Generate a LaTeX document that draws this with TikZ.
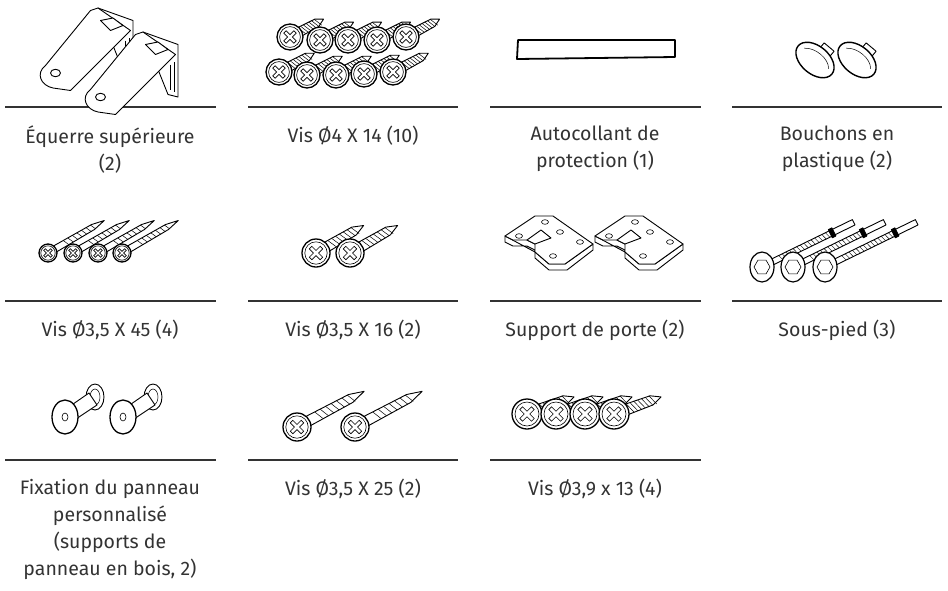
\documentclass[tikz,border=0pt]{standalone}
\usepackage{fontspec}
\setmainfont{Fira Sans}
\definecolor{ink}{HTML}{333333}
\tikzset{
  sep/.style={draw=ink,line width=1.4pt},
  lbl/.style={text=ink,font=\fontsize{19.5}{27}\selectfont,align=center,anchor=north,inner sep=0pt},
  part/.style={draw=black,line width=0.9pt,fill=white,line join=round}
}
\newcommand\myscrew[5]{% x y r angle len
  \begin{scope}[shift={(#1,#2)},rotate=#4]
    \draw[part] (0,-0.38*#3) -- (0.8*#5,-0.32*#3) -- (#5,0) -- (0.8*#5,0.32*#3) -- (0,0.38*#3) -- cycle;
    \foreach \t in {0.3,0.38,...,0.8}
      \draw[line width=0.5pt] ({\t*#5},{-0.34*#3}) -- ({\t*#5+0.3*#3},{0.34*#3});
  \end{scope}
  \draw[part,line width=1.3pt] (#1,#2) circle[radius=#3];
  \draw[line width=0.6pt] (#1,#2) circle[radius=0.8*#3];
  \begin{scope}[shift={(#1,#2)},rotate=45]
    \draw[line width=0.6pt] (-0.55*#3,-0.13*#3) -- (-0.13*#3,-0.13*#3) -- (-0.13*#3,-0.55*#3) -- (0.13*#3,-0.55*#3) -- (0.13*#3,-0.13*#3) -- (0.55*#3,-0.13*#3) -- (0.55*#3,0.13*#3) -- (0.13*#3,0.13*#3) -- (0.13*#3,0.55*#3) -- (-0.13*#3,0.55*#3) -- (-0.13*#3,0.13*#3) -- (-0.55*#3,0.13*#3) -- cycle;
  \end{scope}
}
\newcommand\mybracket[2]{%
  \begin{scope}[shift={(#1,#2)},scale=1.25]
    \draw[part] (52,4) -- (80,14) -- (80,56) -- (72,54) -- cycle;
    \draw[line width=0.5pt] (74,30) -- (74,50) (77,28) -- (77,52);
    \draw[part] (10,50) .. controls (2,56) and (6,66) .. (16,68) -- (30,70) -- (78,22) -- (52,4) -- (46,6) -- cycle;
    \draw[part] (18,56) ellipse (4 and 3);
    \draw[part] (54,14) -- (64,12) -- (72,18) -- (62,22) -- cycle;
  \end{scope}
}
\newcommand\myplate[2]{%
  \begin{scope}[shift={(#1,#2)}]
    \draw[part] (0,22) -- (0,28) -- (8,32) -- (22,32) -- (30,36) -- (30,44) -- (44,56) -- (62,56) -- (88,36) -- (88,30) -- (60,50) -- (44,50) -- (30,38) -- cycle;
    \draw[part] (0,22) -- (30,2) -- (48,2) -- (88,30) -- (60,50) -- (44,50) -- (30,38) -- (30,30) -- (22,26) -- (8,26) -- cycle;
    \draw[part] (22,26) -- (36,16) -- (46,24) -- (30,30) -- cycle;
    \foreach \p in {(14,22),(40,8),(55,18),(75,28),(48,42)} \draw[line width=0.6pt] \p ellipse (3.5 and 2.3);
  \end{scope}
}
\newcommand\myfoot[2]{%
  \begin{scope}[shift={(#1,#2)},rotate=26]
    \draw[part] (0,-3) -- (102,-3) -- (102,3) -- (0,3) -- cycle;
    \foreach \t in {20,24,...,75} \draw[line width=0.4pt] (\t,-3) -- (\t+2,3);
    \draw[part,fill=black] (76,-4.5) rectangle (80,4.5);
  \end{scope}
  \draw[part,line width=1.2pt] (#1,#2) ellipse (12 and 15);
  \draw[line width=0.6pt] (#1,#2) ++(0:8) -- ++(120:8) -- ++(180:8) -- ++(240:8) -- ++(300:8) -- ++(0:8) -- cycle;
}
\newcommand\myspool[2]{%
  \begin{scope}[shift={(#1,#2)}]
    \draw[part] (30,-20) ellipse (9 and 13);
    \draw[line width=0.5pt] (30,-20) ellipse (5 and 8);
    \draw[part] (-2,-6) -- (24,-24) -- (32,-12) -- (5,6) -- cycle;
    \draw[part,line width=1.3pt] (0,0) ellipse (13 and 17);
    \draw[line width=0.6pt] (0,0) ellipse (3 and 4);
  \end{scope}
}
\begin{document}
\begin{tikzpicture}[x=1pt,y=-1pt]
\useasboundingbox (0,0) rectangle (948,590);
% separators
\foreach \r in {107,301,460}{
  \draw[sep] (5,\r) -- (216,\r);
  \draw[sep] (248,\r) -- (458,\r);
  \draw[sep] (490,\r) -- (701,\r);
}
\draw[sep] (732,107) -- (942,107);
\draw[sep] (732,301) -- (942,301);
% row 1 drawings
\mybracket{33}{3}
\mybracket{78}{27}
\foreach \x/\y in {290/37,320/40,348/40,377/40,406/37}{\myscrew{\x}{\y}{13}{28}{38}}
\foreach \x/\y in {279/72,307/75,336/75,364/74,393/72}{\myscrew{\x}{\y}{13}{28}{40}}
\draw[line width=1.8pt,line join=round] (518,40) -- (675,40) -- (675,57) -- (517,59) -- cycle;
\foreach \x in {815,857}{
  \begin{scope}[shift={(\x,60)},rotate=-40]
    \draw[part] (-4,-19) rectangle (9,-10);
    \draw[part,line width=1.4pt] (0,0) ellipse (22 and 14);
    \draw[line width=0.5pt] (-16,-2) .. controls (-8,-10) and (10,-10) .. (16,-2);
  \end{scope}
}
% row 2 drawings
\foreach \x in {48,73,98,122}{\myscrew{\x}{253}{9}{30}{65}}
\myscrew{316}{253}{14}{30}{55}
\myscrew{350}{253}{14}{30}{55}
\myplate{505}{214}
\myplate{595}{214}
\myfoot{762}{267}
\myfoot{793}{267}
\myfoot{825}{267}
% row 3 drawings
\myspool{65}{417}
\myspool{123}{417}
\myscrew{297}{427}{14}{28}{76}
\myscrew{355}{427}{14}{28}{76}
\foreach \x in {527,556,585,614}{\myscrew{\x}{414}{15}{20}{50}}
% labels
\node[lbl] (l1) at (110,126) {Équerre supérieure\\(2)};
\node[lbl] (l2) at (353,126) {Vis Ø4 X 14 (10)};
\node[lbl] (l3) at (595,126) {Autocollant de\\protection (1)};
\node[lbl] (l4) at (837,126) {Bouchons en\\plastique (2)};
\node[lbl] (l5) at (110,320) {Vis Ø3,5 X 45 (4)};
\node[lbl] (l6) at (353,320) {Vis Ø3,5 X 16 (2)};
\node[lbl] (l7) at (595,320) {Support de porte (2)};
\node[lbl] (l8) at (837,320) {Sous-pied (3)};
\node[lbl] (l9) at (110,479) {Fixation du panneau\\personnalisé\\(supports de\\panneau en bois, 2)};
\node[lbl] (l10) at (353,479) {Vis Ø3,5 X 25 (2)};
\node[lbl] (l11) at (595,479) {Vis Ø3,9 x 13 (4)};
\end{tikzpicture}
\end{document}
